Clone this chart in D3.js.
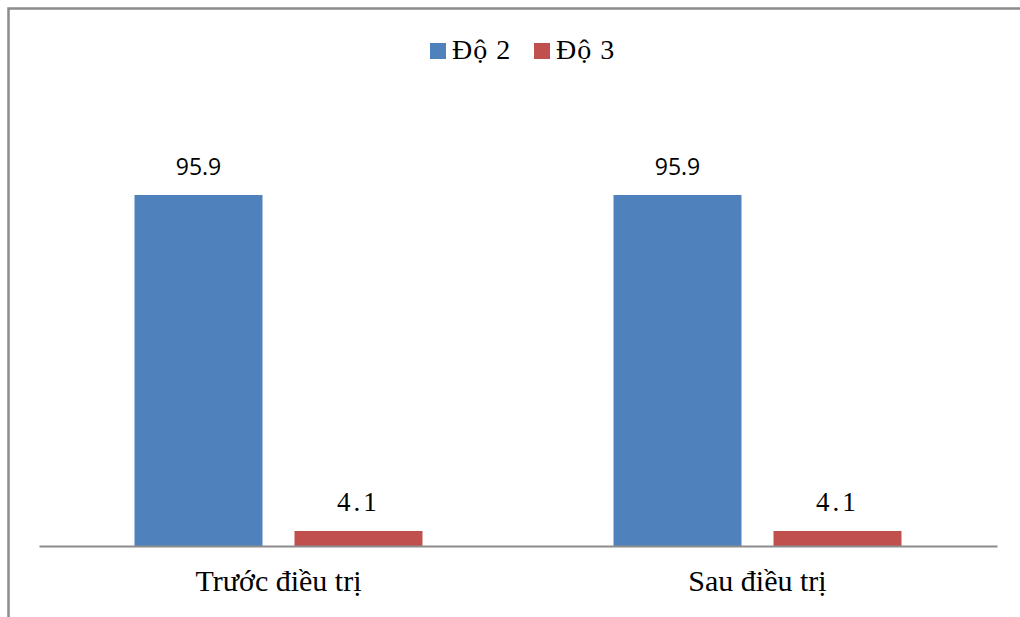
<!DOCTYPE html>
<html>
<head>
<meta charset="utf-8">
<script src="https://cdn.jsdelivr.net/npm/d3@7"></script>
<style>
  html, body { margin: 0; padding: 0; background: #fff; }
  svg { display: block; }
</style>
</head>
<body>
<svg id="chart" width="1020" height="617"></svg>
<script>
// Grade distribution before and after treatment (%)
const categories = ["Trước điều trị", "Sau điều trị"];
const seriesNames = ["Độ 2", "Độ 3"];
const grade2 = [95.9, 95.9];
const grade3 = [4.1, 4.1];
const colors = ["#4F81BD", "#C0504D"];

const series = [grade2, grade3];

const svg = d3.select("#chart");
const W = 1020, H = 617;

// outer chart frame (extends past the right and bottom edges)
svg.append("rect")
  .attr("x", 8.5).attr("y", 8.5)
  .attr("width", W + 20).attr("height", H + 20)
  .attr("fill", "#fff")
  .attr("stroke", "#8c8c8c")
  .attr("stroke-width", 2.5);

const plot = { left: 39, right: 997, top: 30, bottom: 546 };

const x0 = d3.scaleBand()
  .domain(categories)
  .range([plot.left, plot.right])
  .paddingInner(0)
  .paddingOuter(0);

const x1 = d3.scaleBand()
  .domain(seriesNames)
  .range([0, x0.bandwidth()])
  .paddingInner(0.2)
  .paddingOuter(0.597);

const y = d3.scaleLinear()
  .domain([0, 95.9])
  .range([plot.bottom, 195]);

const rows = categories.map((c, i) => ({
  category: c,
  values: seriesNames.map((s, j) => ({ series: s, idx: j, value: series[j][i] }))
}));

const groups = svg.selectAll("g.group")
  .data(rows)
  .join("g")
  .attr("class", "group")
  .attr("transform", d => `translate(${x0(d.category)},0)`);

groups.selectAll("rect")
  .data(d => d.values)
  .join("rect")
  .attr("x", d => x1(d.series))
  .attr("width", x1.bandwidth())
  .attr("y", d => y(d.value))
  .attr("height", d => y(0) - y(d.value))
  .attr("fill", d => colors[d.idx]);

// value labels
groups.selectAll("text.val")
  .data(d => d.values)
  .join("text")
  .attr("class", "val")
  .attr("x", d => x1(d.series) + x1.bandwidth() / 2)
  .attr("y", d => y(d.value) - 20)
  .attr("text-anchor", "middle")
  .style("font-family", d => d.idx === 0 ? "'Open Sans', sans-serif" : "'Liberation Serif', 'Times New Roman', serif")
  .style("font-size", d => d.idx === 0 ? "23px" : "27px")
  .style("letter-spacing", d => d.idx === 0 ? "0px" : "3px")
  .attr("fill", "#000")
  .text(d => d.value.toFixed(1));

// category axis
const xAxis = svg.append("g")
  .attr("transform", `translate(0,${plot.bottom})`)
  .call(d3.axisBottom(x0).tickSize(0).tickPadding(24));
xAxis.select(".domain")
  .attr("stroke", "#8c8c8c")
  .attr("stroke-width", 2);
xAxis.selectAll("text")
  .style("font-family", "'Liberation Serif', 'Times New Roman', serif")
  .style("font-size", "30px")
  .attr("fill", "#000");

// legend
const legend = svg.append("g").attr("class", "legend");
const legendItems = [
  { name: seriesNames[0], color: colors[0], x: 430 },
  { name: seriesNames[1], color: colors[1], x: 534 }
];
const li = legend.selectAll("g")
  .data(legendItems)
  .join("g")
  .attr("transform", d => `translate(${d.x},43)`);
li.append("rect")
  .attr("width", 16).attr("height", 16)
  .attr("fill", d => d.color);
li.append("text")
  .attr("x", 22)
  .attr("y", 16)
  .style("font-family", "'Liberation Serif', 'Times New Roman', serif")
  .style("font-size", "28px")
  .style("letter-spacing", "1px")
  .attr("fill", "#000")
  .text(d => d.name);
</script>
</body>
</html>
